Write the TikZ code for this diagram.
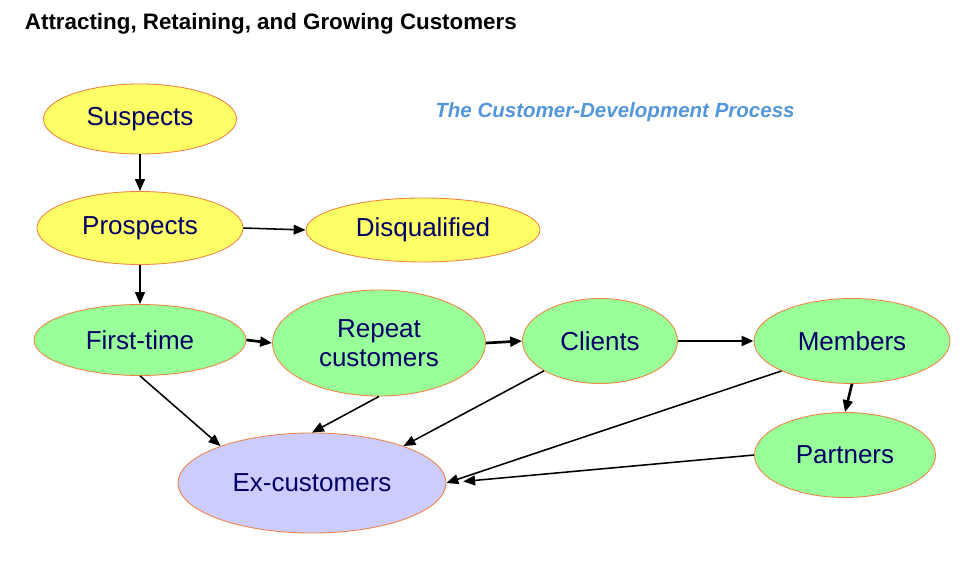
\documentclass[tikz,border=0pt]{standalone}
\usepackage{fontspec}
\setmainfont{Liberation Sans}
\usepackage{xcolor}
\usetikzlibrary{arrows.meta,positioning,shapes.geometric}
\definecolor{LeadYellow}{RGB}{255,255,102}
\definecolor{CustGreen}{RGB}{153,255,153}
\definecolor{LostLilac}{RGB}{204,204,255}
\definecolor{RimOrange}{RGB}{240,128,64}
\definecolor{InkNavy}{RGB}{0,0,102}
\definecolor{CaptionBlue}{RGB}{84,150,218}

\begin{document}
\begin{tikzpicture}[
  stage/.style={ellipse,draw=RimOrange,line width=0.6pt,inner sep=0pt,
                text=InkNavy,font=\fontsize{18.5}{20.6}\selectfont,align=center},
  lead/.style={stage,fill=LeadYellow},
  cust/.style={stage,fill=CustGreen},
  lost/.style={stage,fill=LostLilac},
  flow/.style={-{Triangle[length=8.5pt,width=7pt]},line width=1.1pt},
  bigflow/.style={flow,line width=1.9pt},
  heading/.style={anchor=base west,font=\bfseries\fontsize{15.9}{19}\selectfont},
]
\useasboundingbox (0,0) rectangle (24.5,14.225);

%% Headings
\node[heading] (title) at (0.5,13.475) {Attracting, Retaining, and Growing Customers};
\node[heading,font=\bfseries\itshape\fontsize{14.6}{18}\selectfont,text=CaptionBlue]
  (sub) at (10.76,11.275) {The Customer-Development Process};

%% Leads
\node[lead,minimum width=4.825cm,minimum height=1.75cm]  (sus) at (3.5,11.25)   {Suspects};
\node[lead,minimum width=5.15cm,minimum height=1.825cm]  (pro) at (3.5,8.525)   {Prospects};
\node[lead,minimum width=5.85cm,minimum height=1.6cm]    (dis) at (10.575,8.475){Disqualified};

%% Customers
\node[cust,minimum width=5.3cm,minimum height=1.775cm]   (fir) at (3.5,5.725)   {First-time};
\node[cust,minimum width=5.325cm,minimum height=2.65cm]  (rep) at (9.475,5.65)  {Repeat\\customers};
\node[cust,minimum width=3.875cm,minimum height=2.125cm] (cli) at (15.0,5.7)    {Clients};
\node[cust,minimum width=4.9cm,minimum height=2.125cm]   (mem) at (21.3,5.7)    {Members};
\node[cust,minimum width=4.525cm,minimum height=2.125cm] (par) at (21.125,2.85) {Partners};
\node[lost,minimum width=6.7cm,minimum height=2.5cm]     (ex)  at (7.8,2.15)    {Ex-customers};

%% Flows
\draw[flow] (sus.south) -- (pro.north);
\draw[flow] (pro.east) -- (dis.west);
\draw[flow] (pro.south) -- (fir.north);
\draw[bigflow] (fir.east) -- (rep.west);
\draw[bigflow] (rep.east) -- (cli.west);
\draw[bigflow] (cli.east) -- (mem.west);
\draw[bigflow] (mem.south) -- (par.north);

%% Losses
\draw[flow] (fir.south) -- (ex.158);
\draw[flow] (rep.south) -- (ex.north);
\draw[flow] (cli.208) -- (ex.22);
\draw[flow] (mem.203) -- (ex.east);
\draw[flow,shorten >=0.42cm] (par.west) -- (ex.east);

\end{tikzpicture}
\end{document}
